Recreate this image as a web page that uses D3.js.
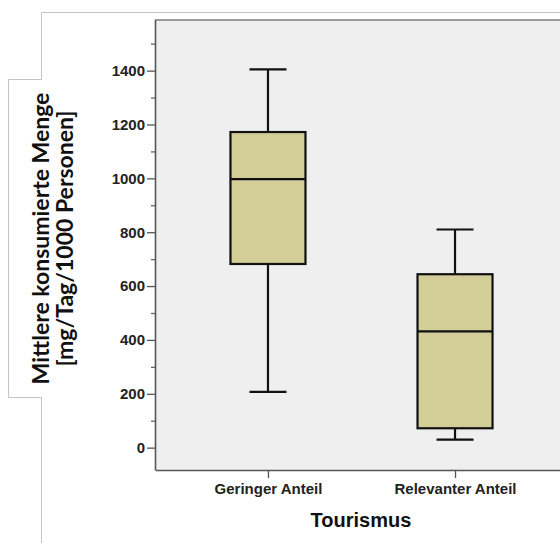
<!DOCTYPE html>
<html>
<head>
<meta charset="utf-8">
<script src="https://cdn.jsdelivr.net/npm/d3@7"></script>
<style>
  html, body { margin: 0; padding: 0; background: #fff; }
  svg { display: block; }
</style>
</head>
<body>
<svg id="chart" width="560" height="543"></svg>
<script>
// Gruppen und Kennwerte der Boxplots (mg/Tag/1000 Personen)
const categories = ["Geringer Anteil", "Relevanter Anteil"];
const whiskerLow  = [207, 30];
const quartile1   = [682, 72];
const median      = [997, 432];
const quartile3   = [1172, 644];
const whiskerHigh = [1405, 810];

const majorTicks = [0, 200, 400, 600, 800, 1000, 1200, 1400];
const minorTicks = [100, 300, 500, 700, 900, 1100, 1300, 1500];

const yTitleLines = ["Mittlere konsumierte Menge", "[mg/Tag/1000 Personen]"];
const xTitle = "Tourismus";

const svg = d3.select("#chart");
const plot = { left: 155, right: 568, top: 20, bottom: 470 };

// Rahmen mit ausgestellter Beschriftungsbox links
svg.append("path")
  .attr("d", "M560,12.5 H41.5 V79.5 H8.5 V397.5 H41.5 V543")
  .attr("fill", "none")
  .attr("stroke", "#c4c4c4")
  .attr("stroke-width", 1);

const y = d3.scaleLinear().domain([-83, 1588]).range([plot.bottom, plot.top]);
const x = d3.scalePoint().domain(categories).range([plot.left, plot.right]).padding(0.604);

// Diagrammfläche
svg.append("rect")
  .attr("x", plot.left).attr("y", plot.top)
  .attr("width", plot.right - plot.left).attr("height", plot.bottom - plot.top)
  .attr("fill", "#efefef");

svg.append("line")
  .attr("x1", plot.left).attr("x2", plot.right)
  .attr("y1", plot.top).attr("y2", plot.top)
  .attr("stroke", "#9a9a9a").attr("stroke-width", 2);

// Nebenstriche der y-Achse
svg.append("g")
  .attr("transform", `translate(${plot.left},0)`)
  .call(d3.axisLeft(y).tickValues(minorTicks).tickSize(4).tickFormat(""))
  .call(g => g.select(".domain").remove())
  .call(g => g.selectAll(".tick line").attr("stroke", "#666").attr("stroke-width", 1.3));

// Hauptstriche und Beschriftung der y-Achse
const yAxis = svg.append("g")
  .attr("transform", `translate(${plot.left},0)`)
  .call(d3.axisLeft(y).tickValues(majorTicks).tickSize(8).tickSizeOuter(0).tickPadding(2).tickFormat(d3.format("d")));
yAxis.select(".domain").attr("stroke", "#555").attr("stroke-width", 1.6)
  .attr("d", `M0.5,${plot.top}V${plot.bottom}`);
yAxis.selectAll(".tick line").attr("stroke", "#555").attr("stroke-width", 1.3);
yAxis.selectAll(".tick text")
  .attr("font-family", "'Liberation Sans', Arial, sans-serif")
  .attr("font-size", 15).attr("font-weight", "bold").attr("fill", "#222");

// x-Achse
const xAxis = svg.append("g")
  .attr("transform", `translate(0,${plot.bottom})`)
  .call(d3.axisBottom(x).tickSize(8).tickSizeOuter(0).tickPadding(5));
xAxis.select(".domain").attr("stroke", "#555").attr("stroke-width", 1.6);
xAxis.selectAll(".tick line").attr("stroke", "#555").attr("stroke-width", 1.3);
xAxis.selectAll(".tick text")
  .attr("font-family", "'Liberation Sans', Arial, sans-serif")
  .attr("font-size", 15).attr("font-weight", "bold").attr("fill", "#222");

// Boxplots
const boxW = 75, capW = 37;
const data = categories.map((c, i) => ({
  cat: c, lo: whiskerLow[i], q1: quartile1[i], med: median[i], q3: quartile3[i], hi: whiskerHigh[i]
}));

const g = svg.append("g").attr("stroke", "#111").attr("stroke-width", 2.2);
const box = g.selectAll("g.box").data(data).join("g").attr("class", "box");

box.append("line")
  .attr("x1", d => x(d.cat)).attr("x2", d => x(d.cat))
  .attr("y1", d => y(d.hi)).attr("y2", d => y(d.q3));
box.append("line")
  .attr("x1", d => x(d.cat)).attr("x2", d => x(d.cat))
  .attr("y1", d => y(d.q1)).attr("y2", d => y(d.lo));
box.append("line")
  .attr("x1", d => x(d.cat) - capW / 2).attr("x2", d => x(d.cat) + capW / 2)
  .attr("y1", d => y(d.hi)).attr("y2", d => y(d.hi));
box.append("line")
  .attr("x1", d => x(d.cat) - capW / 2).attr("x2", d => x(d.cat) + capW / 2)
  .attr("y1", d => y(d.lo)).attr("y2", d => y(d.lo));
box.append("rect")
  .attr("x", d => x(d.cat) - boxW / 2).attr("width", boxW)
  .attr("y", d => y(d.q3)).attr("height", d => y(d.q1) - y(d.q3))
  .attr("fill", "#d3ce97");
box.append("line")
  .attr("x1", d => x(d.cat) - boxW / 2).attr("x2", d => x(d.cat) + boxW / 2)
  .attr("y1", d => y(d.med)).attr("y2", d => y(d.med));

// Achsentitel
svg.append("text")
  .attr("x", 361).attr("y", 527)
  .attr("text-anchor", "middle")
  .attr("font-family", "'Liberation Sans', Arial, sans-serif")
  .attr("font-size", 20).attr("font-weight", "bold").attr("fill", "#111")
  .text(xTitle);

const yt = svg.append("text")
  .attr("transform", "translate(49,238.5) rotate(-90)")
  .attr("text-anchor", "middle")
  .attr("font-family", "Lato, 'Open Sans', sans-serif")
  .attr("font-size", 23).attr("font-weight", "bold").attr("fill", "#111");
yt.selectAll("tspan").data(yTitleLines).join("tspan")
  .attr("x", 0).attr("dy", (d, i) => i === 0 ? 0 : 24)
  .text(d => d);
</script>
</body>
</html>
